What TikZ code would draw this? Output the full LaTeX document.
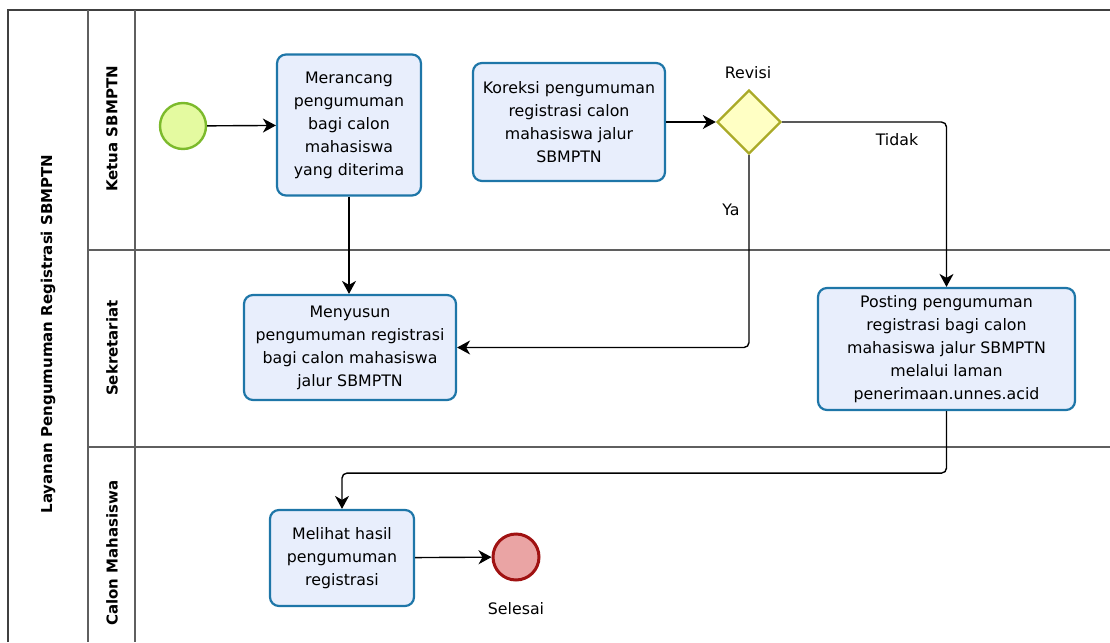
\documentclass[tikz,border=0pt]{standalone}
\usepackage{fontspec}
\setmainfont{DejaVu Sans}
\usetikzlibrary{arrows.meta, shapes.geometric}

\definecolor{taskline}{RGB}{30,118,168}
\definecolor{taskfill}{RGB}{232,238,252}
\definecolor{startline}{RGB}{124,186,44}
\definecolor{startfill}{RGB}{228,250,160}
\definecolor{endline}{RGB}{160,18,18}
\definecolor{endfill}{RGB}{234,164,164}
\definecolor{gateline}{RGB}{170,170,40}
\definecolor{gatefill}{RGB}{255,255,196}
\definecolor{laneline}{RGB}{95,95,95}

\newcommand{\bpfont}{\fontsize{15.8}{23}\selectfont}
\newcommand{\lanefont}{\fontsize{15}{18}\selectfont\bfseries}

\tikzset{
  task/.style={draw=taskline, fill=taskfill, line width=2.2pt, rounded corners=9pt,
    align=center, inner sep=2pt, font=\bpfont},
  startev/.style={circle, draw=startline, fill=startfill, line width=2.4pt, minimum size=46pt, inner sep=0pt},
  endev/.style={circle, draw=endline, fill=endfill, line width=3pt, minimum size=46pt, inner sep=0pt},
  gate/.style={diamond, draw=gateline, fill=gatefill, line width=2.4pt, minimum width=64pt,
    minimum height=64pt, inner sep=0pt},
  flow/.style={draw=black, line width=1.4pt, rounded corners=5pt,
    -{Stealth[length=13pt, width=14pt, inset=4pt]}},
  lane/.style={draw=laneline, line width=1.5pt},
  lanetitle/.style={rotate=90, font=\lanefont},
  note/.style={font=\bpfont}
}

\begin{document}
\begin{tikzpicture}[x=1pt, y=-1pt]
\useasboundingbox (0,0) rectangle (1110,642);

% pool and lanes
\draw[lane, draw=black!75] (8,642) -- (8,10) -- (1110,10);
\draw[lane] (88,10) -- (88,642);
\draw[lane] (135,10) -- (135,642);
\draw[lane] (88,250) -- (1110,250);
\draw[lane] (88,447) -- (1110,447);
\node[lanetitle] (pool) at (48,334) {Layanan Pengumuman Registrasi SBMPTN};
\node[lanetitle] (ketua) at (112,129) {Ketua SBMPTN};
\node[lanetitle] (sekretariat) at (112,348) {Sekretariat};
\node[lanetitle] (calon) at (112,553) {Calon Mahasiswa};

% events, tasks, gateway
\node[startev] (mulai) at (183,126) {};
\node[task, minimum width=144pt, minimum height=141pt] (merancang) at (349,125)
  {Merancang\\pengumuman\\bagi calon\\mahasiswa\\yang diterima};
\node[task, minimum width=192pt, minimum height=118pt] (koreksi) at (569,122)
  {Koreksi pengumuman\\registrasi calon\\mahasiswa jalur\\SBMPTN};
\node[gate] (revisi) at (749,122) {};
\node[note] (revisilbl) at (748,73) {Revisi};
\node[task, minimum width=212pt, minimum height=105pt] (menyusun) at (350,347.5)
  {Menyusun\\pengumuman registrasi\\bagi calon mahasiswa\\jalur SBMPTN};
\node[task, minimum width=257pt, minimum height=122pt] (posting) at (946.5,349)
  {Posting pengumuman\\registrasi bagi calon\\mahasiswa jalur SBMPTN\\melalui laman\\penerimaan.unnes.acid};
\node[task, minimum width=144pt, minimum height=96pt] (melihat) at (342,558)
  {Melihat hasil\\pengumuman\\registrasi};
\node[endev] (selesai) at (516,557) {};
\node[note] (selesailbl) at (516,609) {Selesai};
\node[note] (tidak) at (897,140) {Tidak};
\node[note] (ya) at (731,210) {Ya};

% sequence flows
\draw[flow] (mulai) -- (merancang);
\draw[flow] (merancang.south) -- (merancang.south |- menyusun.north);
\draw[flow] (koreksi) -- (revisi);
\draw[flow] (revisi.east) -| (posting.north);
\draw[flow] (revisi.south) |- (menyusun.east);
\draw[flow] (posting.south) -- ++(0,62) -| (melihat.north);
\draw[flow] (melihat) -- (selesai);
\end{tikzpicture}
\end{document}
